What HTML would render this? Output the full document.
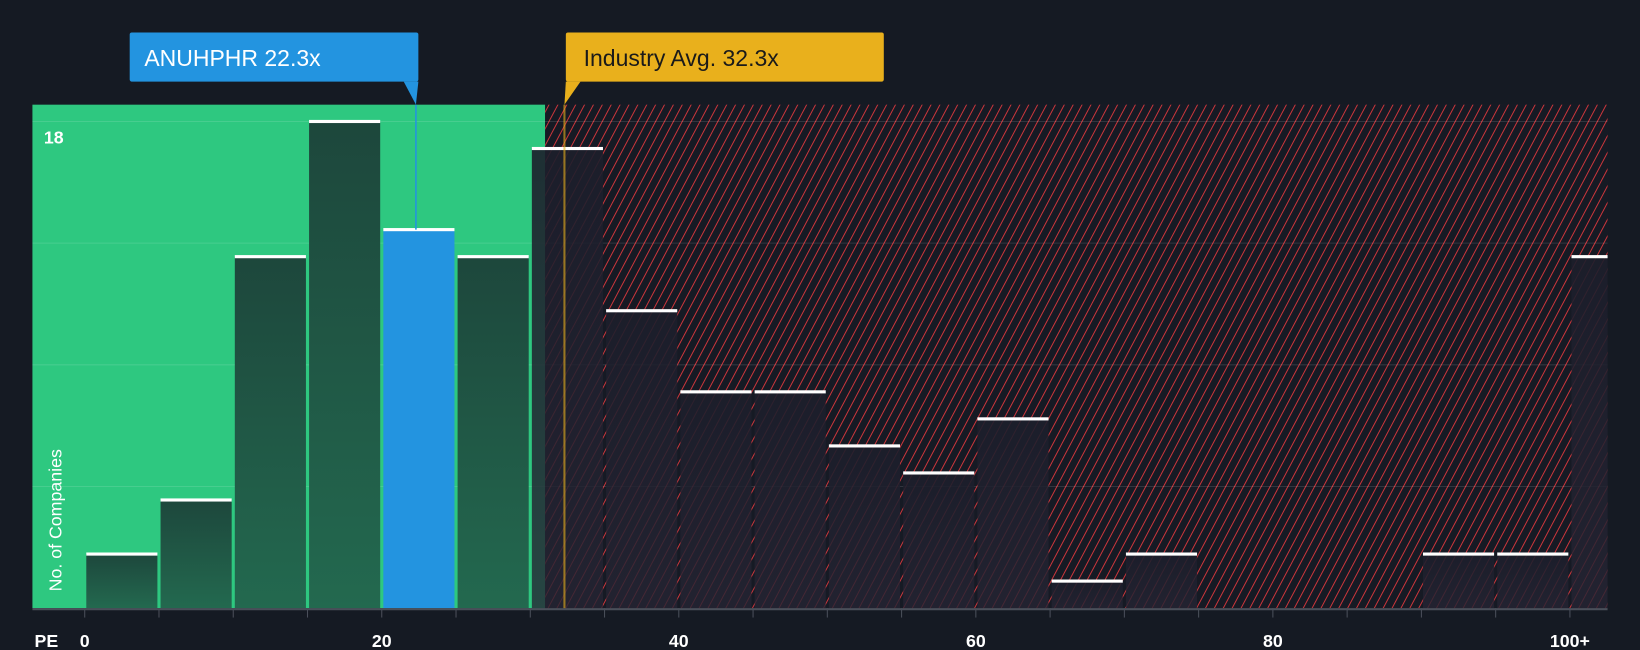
<!DOCTYPE html>
<html><head><meta charset="utf-8"><style>
html,body{margin:0;padding:0;background:#151a23;}
svg{display:block;font-family:"Liberation Sans",sans-serif;}
</style></head><body>
<svg width="1640" height="650" viewBox="0 0 1568 621" preserveAspectRatio="none" xmlns="http://www.w3.org/2000/svg" id="chart">
<defs>
<pattern id="hatch" patternUnits="userSpaceOnUse" width="7.5" height="7.5" patternTransform="rotate(28)">
<rect width="7.5" height="7.5" fill="#161a24"/>
<line x1="0" y1="0" x2="0" y2="7.5" stroke="#e0393e" stroke-width="1.7"/>
</pattern>
<linearGradient id="gbar" x1="0" y1="0" x2="0" y2="1"><stop offset="0" stop-color="#1d473c"/><stop offset="1" stop-color="#23694f"/></linearGradient>
<linearGradient id="rbar" x1="0" y1="0" x2="0" y2="1"><stop offset="0" stop-color="#1c1e2b" stop-opacity="0.9"/><stop offset="1" stop-color="#252433" stop-opacity="0.8"/></linearGradient>
</defs>
<rect width="1568" height="621" fill="#151a23"/>
<g id="plot"></g>
</svg>
<script>
const binStarts=[0,5,10,15,20,25,30,35,40,45,50,55,60,65,70,75,80,85,90,95,100];
const counts=[2,4,13,18,14,13,17,11,8,8,6,5,7,1,2,0,0,0,2,2,13];
const xTicks=[0,20,40,60,80,100];
const xTickLabels=["0","20","40","60","80","100+"];
const companyPE=22.3;
const industryPE=32.3;
const greenEnd=31;
const gridValues=[4.5,9,13.5,18];

const NS="http://www.w3.org/2000/svg";
const g=document.getElementById('plot');
const L=31,R=1537,T=100,B=581;
const x=v=>81+v*14.2;
const y=v=>B-v*25.83;
function mk(t,a){const e=document.createElementNS(NS,t);for(const k in a)e.setAttribute(k,a[k]);g.appendChild(e);return e;}

let e=mk('rect',{x:L,y:T,width:x(greenEnd)-L,height:B-T,fill:'#2ec880'});


e=mk('rect',{x:x(greenEnd),y:T,width:R-x(greenEnd),height:B-T,fill:'url(#hatch)'});



gridValues.forEach(v=>{
  const l=mk('line',{x1:L,x2:R,y1:y(v),y2:y(v),stroke:'rgba(255,255,255,0.12)','stroke-width':1});
  
  
});

binStarts.forEach((s,i)=>{
  const x0=x(s)+1.5, w=Math.min(x(s+5)-1.5,R)-x0;
  const v=counts[i];
  if(v<=0)return;
  const isCo=companyPE>=s&&companyPE<s+5;
  const fill=isCo?'#2394e0':(s+5<=greenEnd?'url(#gbar)':'url(#rbar)');
  const r=mk('rect',{x:x0,y:y(v),width:w,height:B-y(v),fill:fill});
  
  
  const c=mk('rect',{x:x0,y:y(v)-1.5,width:w,height:3,fill:'#ffffff'});
  
  
});

e=mk('line',{x1:L,x2:R,y1:B+1,y2:B+1,stroke:'#4a4f5a','stroke-width':2});


binStarts.concat([105]).forEach(s=>{
  if(x(s)>R)return;
  const t=mk('line',{x1:x(s),x2:x(s),y1:B,y2:B+9,stroke:'#4a4f5a','stroke-width':1});
  
  
});
xTicks.forEach((v,i)=>{
  const t=mk('text',{x:x(v),y:618,fill:'#ffffff','font-size':17,'font-weight':'bold','text-anchor':'middle'});
  t.textContent=xTickLabels[i];
  
  
});
e=mk('text',{x:33,y:618,fill:'#ffffff','font-size':17,'font-weight':'bold'});e.textContent='PE';


e=mk('text',{x:42,y:137,fill:'#ffffff','font-size':17,'font-weight':'bold'});e.textContent='18';


e=mk('text',{x:0,y:0,fill:'#ffffff','font-size':17,transform:'translate(59,565) rotate(-90)'});e.textContent='No. of Companies';



e=mk('line',{x1:x(industryPE),x2:x(industryPE),y1:T,y2:B,stroke:'#e9b01c','stroke-width':2,opacity:0.6});


e=mk('line',{x1:x(companyPE),x2:x(companyPE),y1:T,y2:y(counts[4]),stroke:'#2394e0','stroke-width':1.5});



e=mk('rect',{x:124,y:31,width:276,height:47,rx:2,fill:'#2394e0'});


e=mk('polygon',{points:`386,78 400,78 ${x(companyPE)},${T}`,fill:'#2394e0'});


e=mk('text',{x:138,y:63,fill:'#ffffff','font-size':22});e.textContent='ANUHPHR 22.3x';


e=mk('rect',{x:541,y:31,width:304,height:47,rx:2,fill:'#e9b01c'});


e=mk('polygon',{points:`541,78 555,78 ${x(industryPE)},${T}`,fill:'#e9b01c'});


e=mk('text',{x:558,y:63,fill:'#1a1a1a','font-size':22});e.textContent='Industry Avg. 32.3x';


</script>
</body></html>
